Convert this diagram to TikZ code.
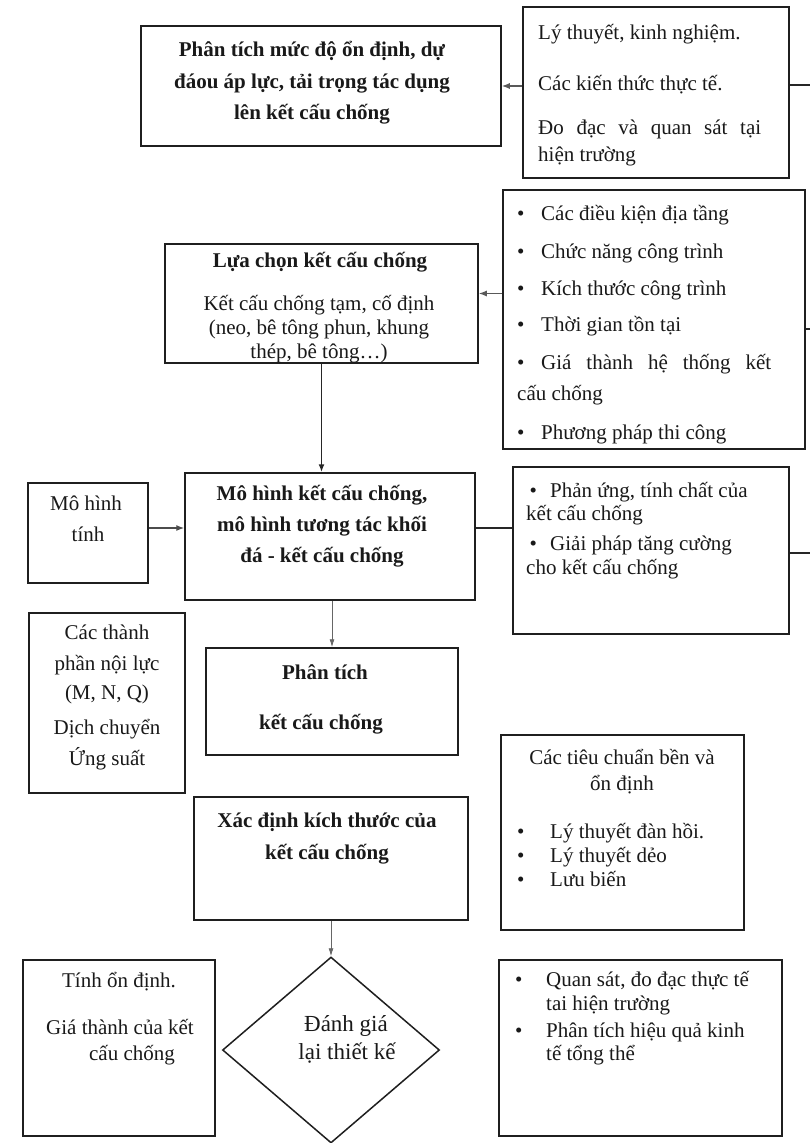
\documentclass[tikz,border=0pt]{standalone}
\usepackage{fontspec}
\setmainfont{Liberation Serif}
\usetikzlibrary{arrows.meta,shapes.geometric}

\begin{document}
\begin{tikzpicture}[x=1pt,y=-1pt,
  box/.style={draw=black!88,line width=1.5pt,inner sep=0pt},
  txt/.style={inner sep=0pt,anchor=base,text=black!90,font=\fontsize{21}{24}\selectfont},
  txtb/.style={txt,font=\fontsize{21}{24}\selectfont\bfseries},
  txtl/.style={txt,anchor=base west},
  link/.style={line width=1.3pt,draw=black!85},
  arr/.style={link,-{Latex[length=8pt,width=6pt]}},
  thinarr/.style={line width=0.9pt,draw=black!60,-{Latex[length=8pt,width=5pt]}},
]
\fill[white] (0,0) rectangle (810,1143);
\useasboundingbox (0,0) rectangle (810,1143);

% ---- boxes ----
\node[box,minimum width=360pt,minimum height=120pt] (A) at (321,86) {};
\node[box,minimum width=266pt,minimum height=171pt] (B) at (656,92.5) {};
\node[box,minimum width=302pt,minimum height=259pt] (C) at (654,319.5) {};
\node[box,minimum width=313pt,minimum height=119pt] (D) at (321.5,303.5) {};
\node[box,minimum width=290pt,minimum height=127pt] (E) at (330,536.5) {};
\node[box,minimum width=120pt,minimum height=100pt] (F) at (88,533) {};
\node[box,minimum width=276pt,minimum height=167pt] (G) at (651,550.5) {};
\node[box,minimum width=156pt,minimum height=180pt] (H) at (107,703) {};
\node[box,minimum width=252pt,minimum height=107pt] (I) at (332,701.5) {};
\node[box,minimum width=243pt,minimum height=195pt] (J) at (622.5,832.5) {};
\node[box,minimum width=274pt,minimum height=123pt] (K) at (331,858.5) {};
\node[box,diamond,minimum width=217pt,minimum height=186pt] (L) at (331,1050) {};
\node[box,minimum width=192pt,minimum height=176pt] (M) at (119,1048) {};
\node[box,minimum width=283pt,minimum height=176pt] (N) at (640.5,1048) {};

% ---- connectors ----
\draw[arr,draw=black!65] (B.west |- A.east) -- (A.east);
\coordinate (Bout) at (812,85);
\draw[link] (B.east |- Bout) -- (Bout);
\coordinate (DC) at ([yshift=10pt]D.east);
\draw[arr,draw=black!65] (C.west |- DC) -- (DC);
\coordinate (Cout) at (812,329);
\draw[link] (C.east |- Cout) -- (Cout);
\draw[arr,line width=1.6pt] (D.south) -- (D.south |- E.north);
\coordinate (FE) at ([yshift=5pt]F.east);
\draw[arr,draw=black!70] (FE) -- (FE -| E.west);
\coordinate (EG) at ([yshift=8.5pt]E.east);
\draw[link] (EG) -- (EG -| G.west);
\coordinate (Gout) at (812,553);
\draw[link] (G.east |- Gout) -- (Gout);
\coordinate (EI) at ([xshift=2pt]E.south);
\draw[thinarr] (EI) -- (EI |- I.north);
\draw[thinarr] (K.south) -- (L.north);

% ---- texts ----
\node[txtb] (a1) at (312,56) {Phân tích mức độ ổn định, dự};
\node[txtb] (a2) at (312,88) {đáou áp lực, tải trọng tác dụng};
\node[txtb] (a3) at (312,119) {lên kết cấu chống};

\node[txtl] (b1) at (538,39) {Lý thuyết, kinh nghiệm.};
\node[txtl] (b2) at (538,90) {Các kiến thức thực tế.};
\node[txtl] (b3) at (538,134) {\hbox to 223pt{Đo\hfill đạc\hfill và\hfill quan\hfill sát\hfill tại}};
\node[txtl] (b4) at (538,161) {hiện trường};

\node[txtl] (c1) at (517,220) {\makebox[24pt][l]{\textbullet}Các điều kiện địa tầng};
\node[txtl] (c2) at (517,258) {\makebox[24pt][l]{\textbullet}Chức năng công trình};
\node[txtl] (c3) at (517,295) {\makebox[24pt][l]{\textbullet}Kích thước công trình};
\node[txtl] (c4) at (517,331) {\makebox[24pt][l]{\textbullet}Thời gian tồn tại};
\node[txtl] (c5) at (517,369) {\makebox[24pt][l]{\textbullet}\hbox to 230pt{Giá\hfill thành\hfill hệ\hfill thống\hfill kết}};
\node[txtl] (c6) at (517,400) {cấu chống};
\node[txtl] (c7) at (517,439) {\makebox[24pt][l]{\textbullet}Phương pháp thi công};

\node[txtb] (d1) at (320,267) {Lựa chọn kết cấu chống};
\node[txt] (d2) at (319,310) {Kết cấu chống tạm, cố định};
\node[txt] (d3) at (319,334) {(neo, bê tông phun, khung};
\node[txt] (d4) at (319,358) {thép, bê tông…)};

\node[txtb] (e1) at (322,500) {Mô hình kết cấu chống,};
\node[txtb] (e2) at (322,531) {mô hình tương tác khối};
\node[txtb] (e3) at (322,562) {đá - kết cấu chống};

\node[txt] (f1) at (86,510) {Mô hình};
\node[txt] (f2) at (88,541) {tính};

\node[txtl] (g1) at (526,497) {\makebox[24pt][l]{\,\textbullet}Phản ứng, tính chất của};
\node[txtl] (g2) at (526,520) {kết cấu chống};
\node[txtl] (g3) at (526,550) {\makebox[24pt][l]{\,\textbullet}Giải pháp tăng cường};
\node[txtl] (g4) at (526,574) {cho kết cấu chống};

\node[txt] (h1) at (107,639) {Các thành};
\node[txt] (h2) at (107,670) {phần nội lực};
\node[txt] (h3) at (107,699) {(M, N, Q)};
\node[txt] (h4) at (107,734) {Dịch chuyển};
\node[txt] (h5) at (107,765) {Ứng suất};

\node[txtb] (i1) at (325,679) {Phân tích};
\node[txtb] (i2) at (321,729) {kết cấu chống};

\node[txt] (j1) at (622,764) {Các tiêu chuẩn bền và};
\node[txt] (j2) at (622,790) {ổn định};
\node[txtl] (j3) at (517,838) {\makebox[33pt][l]{\textbullet}Lý thuyết đàn hồi.};
\node[txtl] (j4) at (517,862) {\makebox[33pt][l]{\textbullet}Lý thuyết dẻo};
\node[txtl] (j5) at (517,886) {\makebox[33pt][l]{\textbullet}Lưu biến};

\node[txtb] (k1) at (327,827) {Xác định kích thước của};
\node[txtb] (k2) at (327,859) {kết cấu chống};

\node[txt,font=\fontsize{23}{26}\selectfont] (l1) at (346,1031) {Đánh giá};
\node[txt,font=\fontsize{23}{26}\selectfont] (l2) at (347,1059) {lại thiết kế};

\node[txt] (m1) at (119,987) {Tính ổn định.};
\node[txt] (m2) at (120,1034) {Giá thành của kết};
\node[txt] (m3) at (132,1060) {cấu chống};

\node[txtl] (n1) at (515,986) {\makebox[31pt][l]{\textbullet}Quan sát, đo đạc thực tế};
\node[txtl] (n2) at (546,1010) {tai hiện trường};
\node[txtl] (n3) at (515,1037) {\makebox[31pt][l]{\textbullet}Phân tích hiệu quả kinh};
\node[txtl] (n4) at (546,1060) {tế tổng thể};
\end{tikzpicture}
\end{document}
